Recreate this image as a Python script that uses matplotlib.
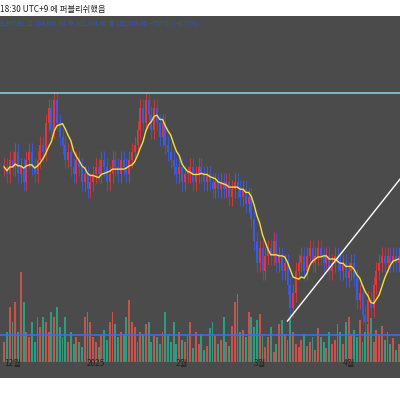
import matplotlib
matplotlib.use("Agg")
import matplotlib.pyplot as plt
import numpy as np
import pandas as pd

closes = [98,97,99,98,100,97,98,96,99,100,98,97,99,101,100,
          104,106,103,107,104,102,
          101,99,100,98,97,99,98,96,97,95,96,97,
          98,97,99,98,96,97,99,98,97,99,98,97,99,100,101,
          103,106,104,107,105,103,106,104,102,104,101,100,99,
          98,97,98,96,97,97,98,96,97,98,97,96,97,96,95,96,95,
          96,95,96,94,95,96,95,94,95,93,94,
          91,88,85,87,84,86,
          87,86,88,85,86,84,85,
          82,79,81,84,
          85,86,84,86,87,85,86,87,86,85,86,84,85,86,85,84,85,83,84,85,
          83,80,81,78,77,80,79,82,
          84,85,86,85,86,85,86,85,86]
volumes = [20,30,55,40,60,30,90,60,30,25,40,20,45,35,45,
           40,30,50,45,55,35,
           25,45,20,30,18,25,20,15,45,50,40,25,
           20,15,28,32,22,40,50,38,25,30,28,45,62,40,35,
           20,30,28,38,40,20,26,25,18,30,50,28,20,
           40,18,30,22,20,26,40,14,30,18,28,12,16,34,40,26,18,
           22,45,20,16,36,60,68,30,32,25,50,
           45,35,42,48,28,15,
           25,35,10,18,38,42,28,22,
           45,30,18,15,
           22,28,16,20,25,12,34,25,20,14,30,18,22,38,30,18,40,45,28,32,
           25,42,20,30,38,44,20,32,
           28,36,22,30,18,24,12,18,16]
tick_labels = ["12월", "2025", "2월", "3월", "4월"]
tick_pos = [0, 30, 61, 89, 121]
hline_price = 108.0
trend = [(100, 77.2), (145, 98.5)]

n = len(closes)
idx = np.arange(n) - 2
opens = [closes[0]] + closes[:-1]
ma = pd.Series(closes).rolling(7, min_periods=1).mean()

fig = plt.figure(figsize=(4, 4), dpi=100)
fig.patch.set_facecolor("white")
bg = fig.add_axes([0, 22/400, 1, 362/400])
bg.set_facecolor("#4b4b4b")
bg.set_xticks([]); bg.set_yticks([])
for s in bg.spines.values():
    s.set_visible(False)
axv = fig.add_axes([0, 22/400, 1, 362/400])
axv.patch.set_visible(False)
axv.set_ylim(-16, 346)
ax = fig.add_axes([0, 22/400, 1, 362/400])
ax.patch.set_visible(False)

for i, o, c, v in zip(idx, opens, closes, volumes):
    up = c >= o
    col = "#e8323c" if up else "#3a5ae8"
    lo, hi = min(o, c), max(o, c)
    ax.vlines(i, lo - 1.2, hi + 1.2, color=col, lw=0.6)
    ax.bar(i, max(hi - lo, 0.3), bottom=lo, width=0.7, color=col)
    axv.bar(i, v, width=0.7, color="#c8534b" if up else "#2e9c80")

ax.plot(idx, ma, color="#f5e040", lw=1.0)
ax.axhline(hline_price, color="#7fd0d8", lw=1.2)
axv.axhline(27, color="#3a6cf0", lw=1.2)
ax.plot([trend[0][0], trend[1][0]], [trend[0][1], trend[1][1]], color="white", lw=1.0)

for a in (ax, axv):
    a.set_xlim(-3.5, 140.5)
    a.set_xticks([]); a.set_yticks([])
    for s in a.spines.values():
        s.set_visible(False)
ax.set_ylim(69.5, 118.4)
for p, t in zip(tick_pos, tick_labels):
    ax.text(p + 1, 71.5, t, color="#222222", fontsize=6, ha="center", va="center",
            family=["Noto Sans CJK KR", "DejaVu Sans"])

fig.text(0.0, 0.977, "18:30 UTC+9 에 퍼블리쉬했음", fontsize=6, color="#222222",
         va="center", family=["Noto Sans CJK KR", "DejaVu Sans"])
fig.text(0.0, 0.938, "3,367.61  고 104,861.30  저 102,304.00  종 102,504.00  −757.00 (−0.73%)",
         fontsize=4.5, color="#3050d0", va="center", family=["Noto Sans CJK KR", "DejaVu Sans"])
fig.savefig("out.png", dpi=100)
